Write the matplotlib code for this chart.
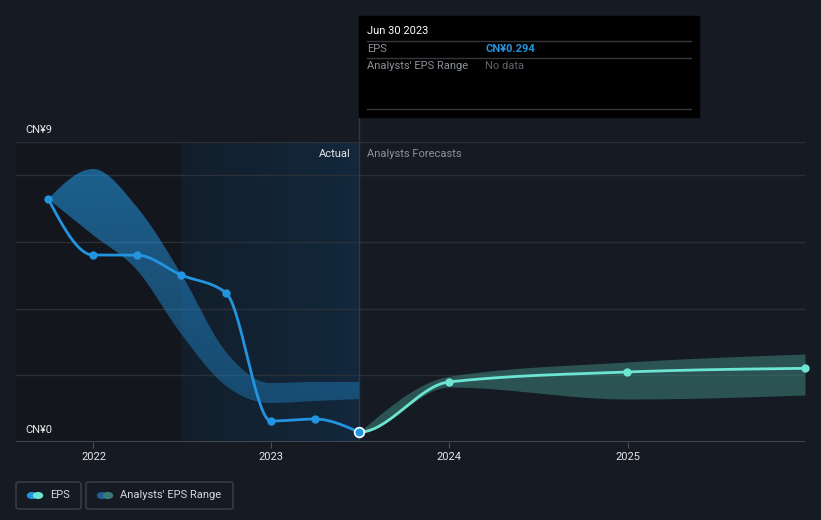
import numpy as np
import pandas as pd
import matplotlib
matplotlib.use("Agg")
import matplotlib.pyplot as plt
import matplotlib.dates as mdates
from matplotlib.patches import Rectangle, FancyBboxPatch, Circle
from matplotlib.lines import Line2D
from matplotlib.colors import LinearSegmentedColormap, to_rgb

plt.rcParams['font.family'] = ['Roboto', 'DejaVu Sans']

# === Data ===
eps_dates = ['2021-09-30', '2021-12-31', '2022-03-31', '2022-06-30',
             '2022-09-30', '2022-12-31', '2023-03-31', '2023-06-30']
eps_vals = [7.29, 5.61, 5.61, 5.01, 4.47, 0.63, 0.69, 0.294]

range_low = [7.29, 6.21, 5.16, 3.24, 1.68, 1.17, 1.23, 1.29]
range_high = [7.29, 8.19, 7.05, 5.04, 2.70, 1.77, 1.80, 1.80]

fc_dates = ['2023-06-30', '2023-12-31', '2024-12-31', '2025-12-31']
fc_vals = [0.294, 1.80, 2.10, 2.21]
fc_low = [0.294, 1.65, 1.29, 1.41]
fc_high = [0.294, 1.97, 2.40, 2.64]

year_ticks = ['2022', '2023', '2024', '2025']
y_labels = ['CN¥0', 'CN¥9']

BG = '#151a23'
BLUE = '#2394df'
TEAL = '#6ce5d3'
W, H = 821, 520


def monotone(x, y, n=60, start_slope=None):
    # d3 curveMonotoneX style smoothing
    x = np.asarray(x, float)
    y = np.asarray(y, float)
    h = np.diff(x)
    s = np.diff(y) / h
    t = np.zeros(len(x))
    for i in range(1, len(x) - 1):
        s0, s1, h0, h1 = s[i - 1], s[i], h[i - 1], h[i]
        p = (s0 * h1 + s1 * h0) / (h0 + h1)
        t[i] = (np.sign(s0) + np.sign(s1)) * min(abs(s0), abs(s1), 0.5 * abs(p))
    t[0] = (3 * s[0] - t[1]) / 2
    t[-1] = (3 * s[-1] - t[-2]) / 2
    if start_slope is not None:
        t[0] = start_slope
    xs_all, ys_all = [], []
    for i in range(len(x) - 1):
        u = np.linspace(0, 1, n)
        dx = h[i]
        h00 = 2 * u**3 - 3 * u**2 + 1
        h10 = u**3 - 2 * u**2 + u
        h01 = -2 * u**3 + 3 * u**2
        h11 = u**3 - u**2
        xs_all.append(x[i] + u * dx)
        ys_all.append(h00 * y[i] + h10 * dx * t[i] + h01 * y[i + 1] + h11 * dx * t[i + 1])
    return np.concatenate(xs_all), np.concatenate(ys_all)


ex = mdates.date2num(pd.to_datetime(eps_dates))
fx = mdates.date2num(pd.to_datetime(fc_dates))
tick_x = mdates.date2num(pd.to_datetime([f'{y}-01-01' for y in year_ticks]))

fig = plt.figure(figsize=(W / 100, H / 100), dpi=100, facecolor=BG)
ax = fig.add_axes([16 / W, (H - 442) / H, (805 - 16) / W, 300 / H])
ax.set_facecolor(BG)

x_left = mdates.date2num(pd.Timestamp('2021-07-26'))
x_right = mdates.date2num(pd.Timestamp('2025-12-31'))

# shaded regions
ax.axvspan(x_left, ex[3], color='#13161c', zorder=0, lw=0)
grad = np.linspace(0, 1, 256).reshape(1, -1)
cmap = LinearSegmentedColormap.from_list('g', ['#131e2b', '#12283c'])
ax.imshow(grad, extent=[ex[3], ex[-1], 0, 9], aspect='auto', cmap=cmap,
          zorder=0.5, interpolation='bicubic')
ax.set_xlim(x_left, x_right)
ax.set_ylim(0, 9)

for yv in [2, 4, 6, 8, 9]:
    ax.axhline(yv, color='#2b3038', lw=1, zorder=1)
ax.axhline(0, color='#4b5059', lw=1.2, zorder=1)

# past analyst range, with vertical fade
bx, bl = monotone(ex, range_low)
_, bh = monotone(ex, range_high)
band = ax.fill_between(bx, bl, bh, color='none', lw=0, zorder=2)
rgba = np.zeros((256, 1, 4))
rgba[..., :3] = to_rgb(BLUE)
rgba[..., 3] = np.linspace(0.6, 0.35, 256)[:, None]
img = ax.imshow(rgba, extent=[ex[0], ex[-1], 0.9, 8.4], aspect='auto', origin='upper',
                zorder=2, interpolation='bicubic')
img.set_clip_path(band.get_paths()[0], transform=ax.transData)
ax.set_xlim(x_left, x_right)
ax.set_ylim(0, 9)

# forecast range
gx, gl = monotone(fx, fc_low, start_slope=0)
_, gh = monotone(fx, fc_high)
ax.fill_between(gx, gl, gh, color='#3a7a76', alpha=0.6, lw=0, zorder=2)

# EPS line
lx, ly = monotone(ex, eps_vals)
ax.plot(lx, ly, color=BLUE, lw=2, zorder=4, solid_capstyle='round')
ax.plot(ex[:-1], eps_vals[:-1], 'o', color=BLUE, ms=6, zorder=5, mew=0)

# forecast line
qx, qy = monotone(fx, fc_vals, start_slope=0)
ax.plot(qx, qy, color=TEAL, lw=2, zorder=4, solid_capstyle='round')
ax.plot(fx[1:], fc_vals[1:], 'o', color=TEAL, ms=6, zorder=5, mew=0, clip_on=False)
ax.plot(ex[-1], eps_vals[-1], 'o', color=BLUE, ms=7, zorder=6, mec='white', mew=1.2)

# divider at today
ax.axvline(ex[-1], color='#2a3a4b', lw=1, zorder=1)
fig.add_artist(Line2D([359 / W, 359 / W], [(H - 117) / H, (H - 142) / H],
                      color='#2a3a4b', lw=1))

ax.annotate('Actual', (ex[-1], 8.65), xytext=(-6, 0), textcoords='offset points',
            color='#e6e6e6', fontsize=8, ha='right', va='center')
ax.annotate('Analysts Forecasts', (ex[-1], 8.65), xytext=(6, 0), textcoords='offset points',
            color='#8d9299', fontsize=8, ha='left', va='center')

for s in ax.spines.values():
    s.set_visible(False)
ax.set_yticks([])
ax.set_xticks(tick_x)
ax.set_xticklabels(year_ticks, color='#e6e6e6', fontsize=8)
ax.tick_params(axis='x', length=4, color='#4b5059', pad=3)

fig.text(25 / W, (H - 130) / H, y_labels[1], color='#e6e6e6', fontsize=8, va='center')
fig.text(25 / W, (H - 430) / H, y_labels[0], color='#e6e6e6', fontsize=8, va='center')

# tooltip
fig.add_artist(Rectangle((359 / W, (H - 117) / H), 340 / W, 101 / H,
                         transform=fig.transFigure, color='black', zorder=10))
for yy in [41, 58, 109]:
    fig.add_artist(Line2D([367 / W, 691 / W], [(H - yy) / H] * 2, color='#34373c',
                          lw=1, zorder=11))
fig.text(367 / W, (H - 31) / H, 'Jun 30 2023', color='white', fontsize=8, va='center', zorder=12)
fig.text(367 / W, (H - 49) / H, 'EPS', color='#8d9299', fontsize=8, va='center', zorder=12)
fig.text(485 / W, (H - 49) / H, 'CN¥0.294', color=BLUE, fontsize=8, va='center',
         fontweight='bold', zorder=12)
fig.text(367 / W, (H - 66) / H, "Analysts' EPS Range", color='#8d9299', fontsize=8,
         va='center', zorder=12)
fig.text(485 / W, (H - 66) / H, 'No data', color='#5f646b', fontsize=8, va='center', zorder=12)

# legend
for x0, x1 in [(16, 81), (86, 233)]:
    fig.add_artist(FancyBboxPatch((x0 / W, (H - 509) / H), (x1 - x0) / W, 27 / H,
                                  boxstyle='round,pad=0,rounding_size=0.004',
                                  transform=fig.transFigure, fc='none', ec='#3d424b', lw=1))
for cx, col in [(32, BLUE), (38, TEAL), (102, '#1f5f8f'), (108, '#3a7a76')]:
    fig.add_artist(Circle((cx / W, (H - 495.5) / H), 4.5 / W, transform=fig.transFigure,
                          color=col, zorder=5))
fig.text(50 / W, (H - 495.5) / H, 'EPS', color='#d6d8db', fontsize=8, va='center')
fig.text(120 / W, (H - 495.5) / H, "Analysts' EPS Range", color='#d6d8db', fontsize=8, va='center')

fig.savefig('out.png', dpi=100, facecolor=BG)
